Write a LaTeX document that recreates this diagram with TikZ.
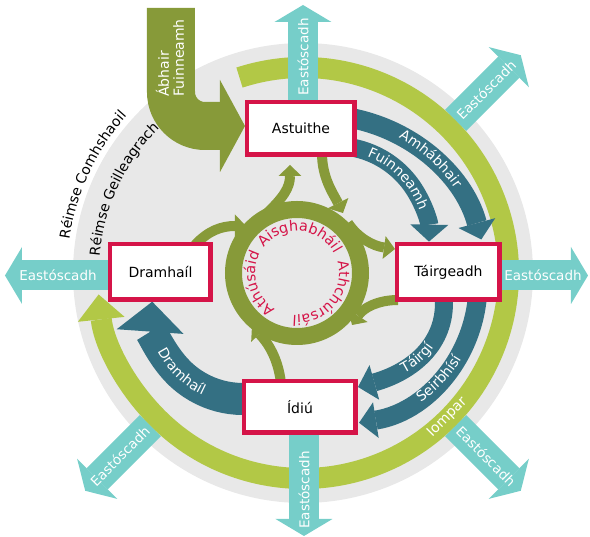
\documentclass[tikz,border=0pt]{standalone}
\usepackage{fontspec}
\setmainfont{DejaVu Sans}
\usetikzlibrary{arrows.meta,decorations.text}
\definecolor{greyc}{RGB}{232,232,232}
\definecolor{limec}{RGB}{178,200,70}
\definecolor{olivec}{RGB}{135,154,57}
\definecolor{tealc}{RGB}{118,206,201}
\definecolor{petrolc}{RGB}{52,112,131}
\definecolor{crimc}{RGB}{213,20,72}
\newcommand{\lblfont}{\fontsize{14}{16}\selectfont}
\newcommand{\ringfont}{\fontsize{14.5}{16}\selectfont}
\tikzset{
  box/.style={draw=crimc,line width=4.5pt,fill=white,inner sep=0pt,font=\lblfont},
  eastarrow/.style={draw=tealc,line width=30pt,-{Triangle[length=17pt,width=57pt,line width=0pt]}},
  eastlabel/.style={text=white,font=\fontsize{13.5}{16}\selectfont},
  smallarrow/.style={draw=olivec,line width=10pt,-{Triangle[length=11pt,width=23pt,line width=0pt]}},
  flow/.style={draw=petrolc,line width=#1},
}
\begin{document}
\begin{tikzpicture}[x=1pt,y=1pt]
\useasboundingbox (-303,-264) rectangle (287,273);
\fill[greyc] (0,0) circle[radius=230];
% labels of the two realms
\path[decorate,decoration={text along path,text align=center,text={|\lblfont|Réimse Comhshaoil}}]
  (188:236) arc[start angle=188,end angle=122,radius=236];
\path[decorate,decoration={text along path,text align=center,text={|\lblfont|Réimse Geilleagrach}}]
  (188:204) arc[start angle=188,end angle=122,radius=204];
% transport ring
\draw[limec,line width=21pt,-{Triangle[length=25pt,width=47pt,line width=0pt]}]
  (108:205.5) arc[start angle=108,end angle=-174,radius=205.5];
\node[text=white,rotate=45,font=\lblfont] at (-45:204) {Iompar};
% emissions
\draw[eastarrow] (0,150) -- (0,268);
\node[eastlabel,rotate=90] at (0,216) {Eastóscadh};
\draw[eastarrow] (150,-2.5) -- (285,-2.5);
\node[eastlabel] at (240,-2.5) {Eastóscadh};
\draw[eastarrow] (-150,-2.5) -- (-298,-2.5);
\node[eastlabel] at (-245,-2.5) {Eastóscadh};
\draw[eastarrow] (1,-120) -- (1,-263);
\node[eastlabel,rotate=90] at (1,-217) {Eastóscadh};
\draw[eastarrow] (45:216) -- (45:308);
\node[eastlabel,rotate=45] at (45:259) {Eastóscadh};
\draw[eastarrow] (-45:216) -- (-45:308);
\node[eastlabel,rotate=-45] at (-45:259) {Eastóscadh};
\draw[eastarrow] (-135:216) -- (-135:308);
\node[eastlabel,rotate=45] at (-135:259) {Eastóscadh};
% input
\draw[olivec,line width=48pt,rounded corners=34pt,-{Triangle[length=25pt,width=92pt,line width=0pt]}]
  (-132,265) |- (-58,147);
\node[text=white,rotate=90,anchor=west,align=left,inner sep=0pt,font=\fontsize{14}{15}\selectfont]
  at (-133,176) {Ábhair\\Fuinneamh};
% inner loop
\draw[olivec,line width=17pt] (-6,0) circle[radius=63.5];
\draw[smallarrow] (-38,58) .. controls (-20,75) and (-13,85) .. (-13,108);
\draw[smallarrow] (19,120) .. controls (19,95) and (30,80) .. (40,60);
\draw[smallarrow] (-108,28) .. controls (-95,42) and (-82,47) .. (-57,47);
\draw[smallarrow] (45,50) .. controls (55,35) and (70,27) .. (92,24);
\draw[smallarrow] (95,-27) .. controls (75,-27) and (60,-35) .. (49,-52);
\draw[smallarrow] (-22,-110) .. controls (-25,-85) and (-35,-70) .. (-51,-53);
% flows between the boxes
\draw[flow=20pt,shift={(16,-10)},-{Triangle[length=17pt,width=38pt,line width=0pt]}]
  (85:168) arc[start angle=85,end angle=15,radius=168];
\draw[flow=18pt,shift={(32,33)},-{Triangle[length=17pt,width=38pt,line width=0pt]}]
  (95:94) arc[start angle=95,end angle=-1,radius=94];
\draw[flow=18pt,-{Triangle[length=17pt,width=36pt,line width=0pt]}]
  (141,-10) -- (141,-30) .. controls (141,-75) and (105,-100) .. (55,-114);
\draw[flow=19pt,shift={(34,-10.5)},-{Triangle[length=17pt,width=36pt,line width=0pt]}]
  (5:141) arc[start angle=5,end angle=-81,radius=141];
\draw[flow=32pt,shift={(-60,-35)},-{Triangle[length=30pt,width=67pt,line width=0pt]}]
  (-75:91) arc[start angle=-75,end angle=-184,radius=91];
\path[shift={(16,-10)},decorate,decoration={text along path,text align=center,text color=white,text={|\lblfont|Amhábhair}}]
  (80:165.5) arc[start angle=80,end angle=16,radius=165.5];
\path[shift={(32,33)},decorate,decoration={text along path,text align=center,text color=white,text={|\lblfont|Fuinneamh}}]
  (80:89.5) arc[start angle=80,end angle=8,radius=89.5];
\path[shift={(67,-31)},decorate,decoration={text along path,text align=center,text color=white,text={|\lblfont|Táirgí}}]
  (-99:77) arc[start angle=-99,end angle=1,radius=77];
\path[shift={(34,-10.5)},decorate,decoration={text along path,text align=center,text color=white,text={|\lblfont|Seirbhísí}}]
  (-83:145.5) arc[start angle=-83,end angle=-3,radius=145.5];
\path[shift={(-60,-35)},decorate,decoration={text along path,text align=center,text color=white,text={|\lblfont|Dramhaíl}}]
  (-180:96) arc[start angle=-180,end angle=-88,radius=96];
% the four stages
\node[box,minimum width=107.5pt,minimum height=52.5pt] (ast) at (-2,144.5) {Astuithe};
\node[box,minimum width=102.5pt,minimum height=55.5pt] (tair) at (145.5,1) {Táirgeadh};
\node[box,minimum width=100.5pt,minimum height=55.5pt] (dram) at (-142.5,1) {Dramhaíl};
\node[box,minimum width=111.5pt,minimum height=51.5pt] (idiu) at (-3,-134) {Ídiú};
% ring texts
\path[shift={(-6,0)},decorate,decoration={text along path,text align=center,text color=crimc,text={|\ringfont|Aisghabháil}}]
  (152:42) arc[start angle=152,end angle=18,radius=42];
\path[shift={(-6,0)},decorate,decoration={text along path,text align=center,text color=crimc,text={|\ringfont|Athchúrsáil}}]
  (25:42) arc[start angle=25,end angle=-105,radius=42];
\path[shift={(-6,0)},decorate,decoration={text along path,text align=center,text color=crimc,text={|\ringfont|Athúsáid}}]
  (245:42) arc[start angle=245,end angle=145,radius=42];
\end{tikzpicture}
\end{document}
